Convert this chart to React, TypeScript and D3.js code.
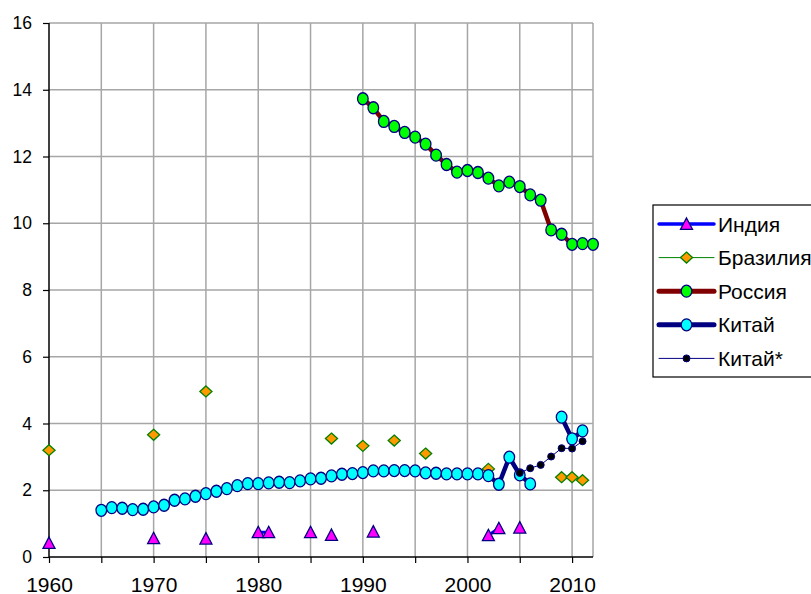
import * as React from 'react';
import { useEffect, useRef } from 'react';
import * as d3 from 'd3';

// Индия
const indiaYears = [1960, 1970, 1975, 1980, 1981, 1985, 1987, 1991, 2002, 2003, 2005];
const indiaValues = [0.42, 0.56, 0.55, 0.74, 0.74, 0.74, 0.66, 0.76, 0.65, 0.86, 0.88];

// Бразилия
const brazilYears = [1960, 1970, 1975, 1987, 1990, 1993, 1996, 2002, 2009, 2010, 2011];
const brazilValues = [3.2, 3.66, 4.96, 3.55, 3.33, 3.49, 3.1, 2.64, 2.39, 2.39, 2.3];

// Россия
const russiaYears = [1990, 1991, 1992, 1993, 1994, 1995, 1996, 1997, 1998, 1999, 2000, 2001,
    2002, 2003, 2004, 2005, 2006, 2007, 2008, 2009, 2010, 2011, 2012];
const russiaValues = [13.73, 13.46, 13.05, 12.9, 12.72, 12.58, 12.37, 12.04, 11.76, 11.53, 11.58, 11.52,
    11.35, 11.12, 11.23, 11.1, 10.85, 10.69, 9.8, 9.67, 9.37, 9.39, 9.37];

// Китай
const chinaYears = [1965, 1966, 1967, 1968, 1969, 1970, 1971, 1972, 1973, 1974, 1975, 1976, 1977,
    1978, 1979, 1980, 1981, 1982, 1983, 1984, 1985, 1986, 1987, 1988, 1989, 1990, 1991, 1992,
    1993, 1994, 1995, 1996, 1997, 1998, 1999, 2000, 2001, 2002, 2003, 2004, 2005, 2006, 2007,
    2008, 2009, 2010, 2011];
const chinaValues: (number | null)[] = [1.4, 1.48, 1.46, 1.42, 1.43, 1.5, 1.55, 1.7, 1.74, 1.82, 1.9, 1.97, 2.05,
    2.14, 2.2, 2.2, 2.22, 2.24, 2.23, 2.28, 2.34, 2.36, 2.43, 2.48, 2.5, 2.53, 2.58, 2.58,
    2.59, 2.59, 2.58, 2.52, 2.51, 2.49, 2.49, 2.49, 2.49, 2.44, 2.18, 2.99, 2.46, 2.19, null,
    null, 4.19, 3.54, 3.78];

// Китай*
const chinaStarYears = [2005, 2006, 2007, 2008, 2009, 2010, 2011];
const chinaStarValues = [2.52, 2.66, 2.76, 3.01, 3.26, 3.25, 3.47];

const xTicks = [1960, 1970, 1980, 1990, 2000, 2010];
const xMinorTicks = [1960, 1965, 1970, 1975, 1980, 1985, 1990, 1995, 2000, 2005, 2010];
const yTicks = [0, 2, 4, 6, 8, 10, 12, 14, 16];

type Pt = { year: number; value: number | null };
const zip = (ys: number[], vs: (number | null)[]): Pt[] => ys.map((year, i) => ({ year, value: vs[i] }));

// fill the gaps between the given years with nulls so only neighbouring years get joined
const withGaps = (ys: number[], vs: number[]): Pt[] => {
    const all = d3.range(ys[0], ys[ys.length - 1] + 1);
    return all.map(yr => {
        const i = ys.indexOf(yr);
        return { year: yr, value: i >= 0 ? vs[i] : null };
    });
};

export default function App() {
    const svgRef = useRef<SVGSVGElement>(null);

    useEffect(() => {
        if (!svgRef.current) return;
        const svg = d3.select(svgRef.current);
        svg.selectAll('*').remove();

        const font = '"Liberation Sans", Arial, sans-serif';
        const x = d3.scaleLinear().domain([1960, 2012]).range([49, 593]);
        const y = d3.scaleLinear().domain([0, 16]).range([557, 23]);

        // grid
        const grid = svg.append('g');
        grid.selectAll('.hg')
            .data(yTicks.filter(d => d > 0))
            .enter().append('line')
            .attr('x1', x(1960)).attr('x2', x(2012))
            .attr('y1', d => y(d)).attr('y2', d => y(d))
            .attr('stroke', '#a6a6a6').attr('stroke-width', 1.5);
        grid.selectAll('.vg')
            .data([...xMinorTicks.filter(d => d > 1960), 2012])
            .enter().append('line')
            .attr('x1', d => x(d)).attr('x2', d => x(d))
            .attr('y1', y(0)).attr('y2', y(16))
            .attr('stroke', '#a6a6a6').attr('stroke-width', 1.5);

        // axes
        const yAxis = svg.append('g')
            .attr('transform', `translate(${x(1960)},0)`)
            .call(d3.axisLeft(y).tickValues(yTicks).tickSize(6).tickPadding(11).tickFormat(d3.format('d')));
        const xAxis = svg.append('g')
            .attr('transform', `translate(0,${y(0)})`)
            .call(d3.axisBottom(x).tickValues(xMinorTicks).tickSize(6)
                .tickFormat(d => (xTicks.includes(+d) ? String(d) : '')));
        [yAxis, xAxis].forEach(a => {
            a.attr('font-family', font);
            a.select('.domain').attr('stroke', '#000').attr('stroke-width', 1.5);
            a.selectAll('.tick line').attr('stroke', '#000').attr('stroke-width', 1.2);
            a.selectAll('.tick text').attr('fill', '#000');
        });
        yAxis.attr('font-size', 17.5);
        xAxis.attr('font-size', 21);
        xAxis.selectAll('.tick text').attr('dy', null).attr('y', 34.5);
        xAxis.select('.domain').attr('d', `M${x(1960)},0H${x(2012)}`);
        yAxis.select('.domain').attr('d', `M0,${y(16)}V${y(0)}`);

        const line = d3.line<Pt>()
            .defined(d => d.value !== null)
            .x(d => x(d.year))
            .y(d => y(d.value as number));

        const drawLine = (data: Pt[], color: string, width: number) => {
            svg.append('path')
                .datum(data)
                .attr('fill', 'none')
                .attr('stroke', color)
                .attr('stroke-width', width)
                .attr('stroke-linejoin', 'round')
                .attr('d', line);
        };

        const tri = (cx: number, cy: number, s: number) =>
            `M${cx},${cy - s}L${cx + s},${cy + s * 0.9}L${cx - s},${cy + s * 0.9}Z`;
        const dia = (cx: number, cy: number, s: number) =>
            `M${cx},${cy - s}L${cx + s * 1.1},${cy}L${cx},${cy + s}L${cx - s * 1.1},${cy}Z`;

        // India
        const india = zip(indiaYears, indiaValues);
        drawLine(withGaps(indiaYears, indiaValues), '#0000ff', 3);
        svg.append('g').selectAll('path')
            .data(india).enter().append('path')
            .attr('d', d => tri(x(d.year), y(d.value as number), 6))
            .attr('fill', '#ff00ff').attr('stroke', '#000080').attr('stroke-width', 1.3);

        // Brazil
        const brazil = zip(brazilYears, brazilValues);
        drawLine(withGaps(brazilYears, brazilValues), '#008000', 1);
        svg.append('g').selectAll('path')
            .data(brazil).enter().append('path')
            .attr('d', d => dia(x(d.year), y(d.value as number), 5.5))
            .attr('fill', '#ff9900').attr('stroke', '#008000').attr('stroke-width', 1.3);

        // Russia
        const russia = zip(russiaYears, russiaValues);
        drawLine(russia, '#800000', 4.5);
        svg.append('g').selectAll('ellipse')
            .data(russia).enter().append('ellipse')
            .attr('cx', d => x(d.year)).attr('cy', d => y(d.value as number))
            .attr('rx', 5.3).attr('ry', 6)
            .attr('fill', '#00ff00').attr('stroke', '#000080').attr('stroke-width', 1.3);

        // China
        const china = zip(chinaYears, chinaValues);
        drawLine(china, '#000080', 4.5);
        svg.append('g').selectAll('ellipse')
            .data(china.filter(d => d.value !== null)).enter().append('ellipse')
            .attr('cx', d => x(d.year)).attr('cy', d => y(d.value as number))
            .attr('rx', 5.3).attr('ry', 6)
            .attr('fill', '#00ffff').attr('stroke', '#000080').attr('stroke-width', 1.3);

        // China*
        const chinaStar = zip(chinaStarYears, chinaStarValues);
        drawLine(chinaStar, '#000080', 1);
        svg.append('g').selectAll('circle')
            .data(chinaStar).enter().append('circle')
            .attr('cx', d => x(d.year)).attr('cy', d => y(d.value as number))
            .attr('r', 3.5)
            .attr('fill', '#000000').attr('stroke', '#000080').attr('stroke-width', 1);

        // legend
        const lg = svg.append('g');
        lg.append('rect')
            .attr('x', 653).attr('y', 205).attr('width', 170).attr('height', 172)
            .attr('fill', '#fff').attr('stroke', '#000').attr('stroke-width', 1.2);
        const items = [
            { name: 'Индия', color: '#0000ff', w: 3.5, mark: 'tri' },
            { name: 'Бразилия', color: '#008000', w: 1, mark: 'dia' },
            { name: 'Россия', color: '#800000', w: 5, mark: 'green' },
            { name: 'Китай', color: '#000080', w: 5, mark: 'cyan' },
            { name: 'Китай*', color: '#000080', w: 1, mark: 'dot' },
        ];
        items.forEach((it, i) => {
            const cy = 224 + i * 33.6;
            const g = lg.append('g');
            g.append('line')
                .attr('x1', 659).attr('x2', 714).attr('y1', cy).attr('y2', cy)
                .attr('stroke', it.color).attr('stroke-width', it.w).attr('stroke-linecap', 'round');
            const mx = 686.5;
            if (it.mark === 'tri') {
                g.append('path').attr('d', tri(mx, cy, 6))
                    .attr('fill', '#ff00ff').attr('stroke', '#000080').attr('stroke-width', 1.3);
            } else if (it.mark === 'dia') {
                g.append('path').attr('d', dia(mx, cy, 5.5))
                    .attr('fill', '#ff9900').attr('stroke', '#008000').attr('stroke-width', 1.3);
            } else if (it.mark === 'dot') {
                g.append('circle').attr('cx', mx).attr('cy', cy).attr('r', 3.5)
                    .attr('fill', '#000').attr('stroke', '#000080');
            } else {
                g.append('ellipse').attr('cx', mx).attr('cy', cy).attr('rx', 5.3).attr('ry', 6)
                    .attr('fill', it.mark === 'green' ? '#00ff00' : '#00ffff')
                    .attr('stroke', '#000080').attr('stroke-width', 1.3);
            }
            g.append('text')
                .attr('x', 718).attr('y', cy)
                .attr('dy', '0.36em')
                .attr('font-size', '21px')
                .attr('font-family', font)
                .attr('fill', '#000')
                .text(it.name);
        });
    }, []);

    return (
        <svg
            ref={svgRef}
            width={811}
            height={594}
            style={{ position: 'absolute', left: 0, top: 0, background: '#fff' }}
        />
    );
}
